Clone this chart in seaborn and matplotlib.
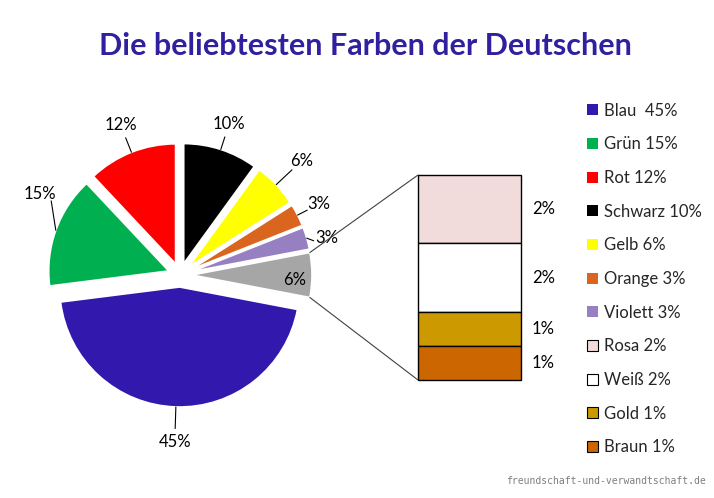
import numpy as np
import matplotlib
matplotlib.use("Agg")
import matplotlib.pyplot as plt
import seaborn as sns
from matplotlib.patches import ConnectionPatch, Patch

# ---- data ----
pie_names = ["Blau", "Grün", "Rot", "Schwarz", "Gelb", "Orange", "Violett", "Sonstige"]
pie_values = [45, 15, 12, 10, 6, 3, 3, 6]
pie_colors = ["#3318AE", "#00B050", "#FF0000", "#000000", "#FFFF00", "#D9651F", "#9680C2", "#A6A6A6"]

bar_names = ["Rosa", "Weiß", "Gold", "Braun"]
bar_values = [2, 2, 1, 1]
bar_colors = ["#F2DCDB", "#FFFFFF", "#CC9900", "#CC6600"]

legend_labels = ["Blau  45%", "Grün 15%", "Rot 12%", "Schwarz 10%", "Gelb 6%",
                 "Orange 3%", "Violett 3%", "Rosa 2%", "Weiß 2%", "Gold 1%", "Braun 1%"]
title = "Die beliebtesten Farben der Deutschen"
watermark = "freundschaft-und-verwandtschaft.de"

sns.set_theme(style="white")
plt.rcParams["font.family"] = ["Lato", "DejaVu Sans"]

W, H = 714, 498
fig = plt.figure(figsize=(W / 100, H / 100), dpi=100)
fig.patch.set_facecolor("white")

# ---- pie (axes in pixel-like units) ----
ax = fig.add_axes([0, 0, 1, 1])
R = 120
cx, cy = 180, H - 275
explode = [12] * len(pie_values)
wedges, _ = ax.pie(pie_values, colors=pie_colors, startangle=-10.8, counterclock=False,
                   center=(cx, cy), radius=R, explode=explode,
                   wedgeprops=dict(edgecolor="white", linewidth=1.2))
ax.set_xlim(0, W)
ax.set_ylim(0, H)
ax.set_aspect("auto")
ax.axis("off")

# percentage labels with leader lines
label_r = [1.29, 1.25, 1.24, 1.22, 1.29, 1.20, 1.16, 0.86]
label_shift = [0, -11, 0, 0, 0, 0, -2, -3]
for i, (w, v) in enumerate(zip(wedges, pie_values)):
    th = np.deg2rad((w.theta1 + w.theta2) / 2)
    thl = th + np.deg2rad(label_shift[i])
    ex, ey = w.center
    tx, ty = ex + label_r[i] * R * np.cos(thl), ey + label_r[i] * R * np.sin(thl)
    ax.text(tx, ty, f"{v}%", ha="center", va="center", fontsize=12, color="black")
    if label_r[i] > 1:
        sx, sy = ex + R * np.cos(th), ey + R * np.sin(th)
        lr = label_r[i] - 0.11
        lx, ly = ex + lr * R * np.cos(thl), ey + lr * R * np.sin(thl)
        ax.plot([sx, lx], [sy, ly], color="black", lw=0.8)

# ---- stacked bar ----
bx0, bx1, by0, by1 = 418, 521, 175, 380
axb = fig.add_axes([bx0 / W, 1 - by1 / H, (bx1 - bx0) / W, (by1 - by0) / H])
total = sum(bar_values)
bottoms = total - np.cumsum(bar_values)
bars = axb.bar([0] * len(bar_values), bar_values, bottom=bottoms, width=1.0,
               color=bar_colors, edgecolor="black", linewidth=1.0, clip_on=False)
axb.set_xlim(-0.5, 0.5)
axb.set_ylim(0, total)
axb.axis("off")
for b, v, v_bot in zip(bars, bar_values, bottoms):
    axb.annotate(f"{v}%", xy=(0.5, v_bot + v / 2), xytext=(11, 0), textcoords="offset pixels",
                 ha="left", va="center", fontsize=12, color="black", annotation_clip=False)

# connector lines from the grey slice to the bar
gw = wedges[-1]
gx, gy = gw.center
for ang in (gw.theta1, gw.theta2):
    a = np.deg2rad(ang)
    px, py = gx + R * np.cos(a), gy + R * np.sin(a)
    yb = total if np.sin(a) > 0 else 0
    con = ConnectionPatch(xyA=(px, py), coordsA=ax.transData, xyB=(-0.5, yb), coordsB=axb.transData,
                          color="#404040", lw=0.8)
    fig.add_artist(con)

# ---- legend ----
handles = [Patch(facecolor=c, edgecolor="none") for c in pie_colors[:-1]]
handles += [Patch(facecolor=c, edgecolor="black", linewidth=0.8) for c in bar_colors]
fig.legend(handles, legend_labels, loc="center left", bbox_to_anchor=(587 / W, 1 - 279 / H),
           bbox_transform=fig.transFigure, frameon=False, fontsize=12,
           handlelength=0.65, handleheight=0.65, handletextpad=0.35,
           labelspacing=1.06, borderpad=0, borderaxespad=0)

# ---- title and watermark ----
fig.text(365 / W, 1 - 46 / H, title, ha="center", va="center", fontsize=22,
         fontweight="bold", color="#3020A0")
fig.text(706 / W, 1 - 481 / H, watermark, ha="right", va="center", fontsize=7,
         family="DejaVu Sans Mono", color="#7F7F7F")

fig.savefig("out.png", dpi=100, facecolor="white")
